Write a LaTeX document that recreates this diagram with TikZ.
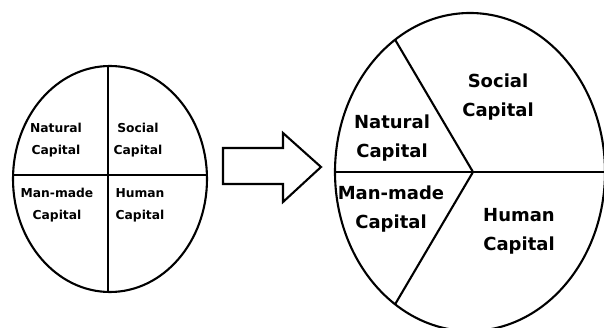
\documentclass[tikz,border=0pt]{standalone}
\usepackage{fontspec}
\setmainfont{DejaVu Sans}
\usetikzlibrary{calc}

\tikzset{
  divline/.style={line width=2.1pt},
  smalllabel/.style={align=center, font=\fontsize{12.3}{22}\selectfont\bfseries},
  biglabel/.style={align=center, font=\fontsize{18}{29}\selectfont\bfseries}
}

\begin{document}
\begin{tikzpicture}[x=1pt,y=-1pt]
    \useasboundingbox (0,0) rectangle (604,328);
    \clip (0,0) rectangle (604,328);
    % Define the centres of the two ellipses
    \coordinate (cl) at (110,179);
    \coordinate (cr) at (470,172);
    \coordinate (v) at (473,172);
    % Left ellipse, split in four
    \begin{scope}
        \clip (cl) ellipse (97 and 113);
        \draw[divline] (108,50) -- (108,310);
        \draw[divline] (0,175) -- (220,175);
    \end{scope}
    \draw[divline] (cl) ellipse (97 and 113);
    % Block arrow
    \draw[divline, line join=miter] (223,148) -- (283,148) -- (283,133) -- (321,167)
        -- (283,202) -- (283,184) -- (223,184) -- cycle;
    % Right ellipse, split by a wedge
    \coordinate (top) at ($(cr)+(123.7:135 and 159)$);
    \coordinate (bot) at ($(cr)+(236.3:135 and 159)$);
    \draw[divline] (cr) ellipse (135 and 159);
    \draw[divline] (335,172) -- (610,172);
    \draw[divline] (top) -- (v) -- (bot);
    % Labels
    \node[smalllabel] (natl) at (56,140) {Natural\\Capital};
    \node[smalllabel] (socl) at (138,140) {Social\\Capital};
    \node[smalllabel] (manl) at (57,205) {Man-made\\Capital};
    \node[smalllabel] (huml) at (140,205) {Human\\Capital};
    \node[biglabel] (natr) at (392,138) {Natural\\Capital};
    \node[biglabel] (socr) at (498,97) {Social\\Capital};
    \node[biglabel] (manr) at (391,209) {Man-made\\Capital};
    \node[biglabel] (humr) at (519,231) {Human\\Capital};
\end{tikzpicture}
\end{document}
